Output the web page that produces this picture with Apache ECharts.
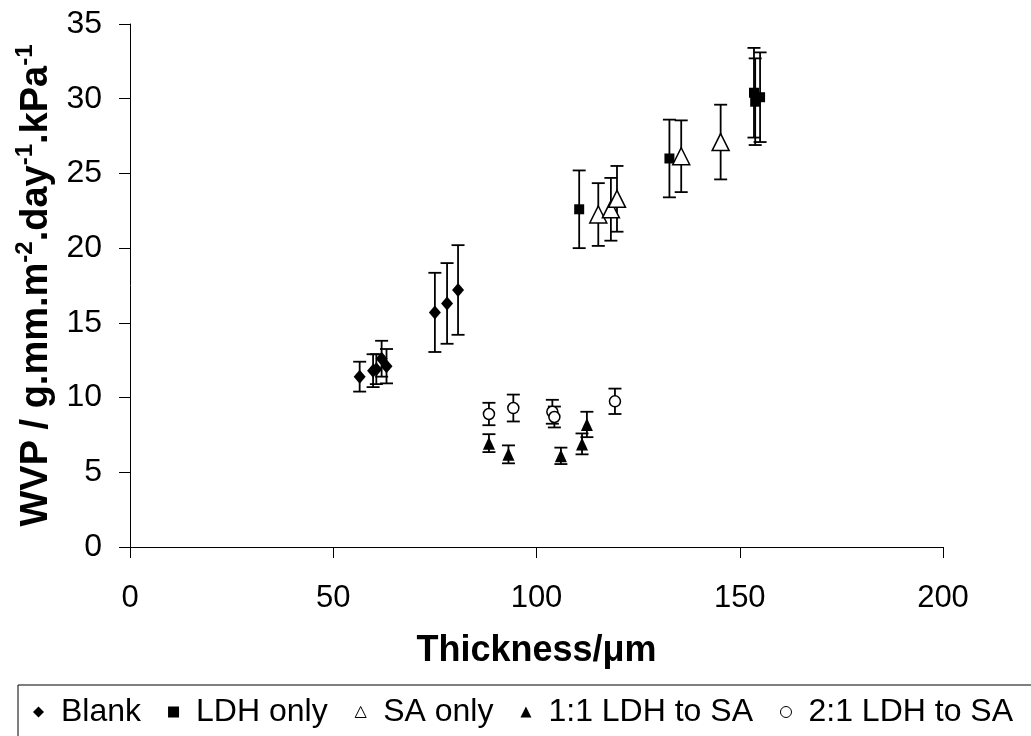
<!DOCTYPE html>
<html>
<head>
<meta charset="utf-8">
<script src="https://cdn.jsdelivr.net/npm/echarts@6/dist/echarts.min.js"></script>
<style>
    html, body { margin: 0; padding: 0; background: #fff; }
    #chart { width: 1031px; height: 736px; }
</style>
</head>
<body>
<div id="chart"></div>
<script>
// Blank
var blankX = [56.5, 59.8, 60.6, 61.9, 63.1, 75.0, 78.0, 80.7];
var blankY = [11.4, 11.8, 11.9, 12.6, 12.1, 15.7, 16.3, 17.2];
var blankErr = [1.0, 1.1, 1.0, 1.2, 1.15, 2.65, 2.7, 3.0];
// LDH only
var ldhX = [110.5, 132.7, 153.5, 153.8, 155.0];
var ldhY = [22.6, 26.0, 30.4, 29.8, 30.1];
var ldhErr = [2.6, 2.6, 3.0, 2.9, 3.0];
// SA only
var saX = [115.2, 118.3, 119.8, 135.6, 145.3];
var saY = [22.25, 22.6, 23.3, 26.15, 27.1];
var saErr = [2.1, 2.1, 2.2, 2.4, 2.5];
// 1:1 LDH to SA
var r11X = [88.3, 93.1, 106.0, 111.2, 112.4];
var r11Y = [6.95, 6.2, 6.1, 6.9, 8.2];
var r11Err = [0.6, 0.6, 0.55, 0.7, 0.85];
// 2:1 LDH to SA
var r21X = [88.3, 94.3, 103.9, 104.4, 119.3];
var r21Y = [8.9, 9.3, 9.05, 8.7, 9.75];
var r21Err = [0.75, 0.9, 0.8, 0.7, 0.85];

var xTicks = [0, 50, 100, 150, 200];
var yTicks = [0, 5, 10, 15, 20, 25, 30, 35];

var font = 'Liberation Sans, Arial, sans-serif';

function pts(xs, ys, es) {
    return xs.map(function (x, i) { return [x, ys[i], es[i]]; });
}

// error bar drawn with the axis scales
function errBar(params, api) {
    var x = api.value(0), y = api.value(1), e = api.value(2);
    var top = api.coord([x, y + e]);
    var bot = api.coord([x, y - e]);
    var w = 6.5;
    var st = { stroke: '#000', lineWidth: 1.8 };
    return {
        type: 'group',
        children: [
            { type: 'line', shape: { x1: top[0], y1: top[1], x2: bot[0], y2: bot[1] }, style: st },
            { type: 'line', shape: { x1: top[0] - w, y1: top[1], x2: top[0] + w, y2: top[1] }, style: st },
            { type: 'line', shape: { x1: bot[0] - w, y1: bot[1], x2: bot[0] + w, y2: bot[1] }, style: st }
        ]
    };
}

var groups = [
    { name: 'Blank', d: pts(blankX, blankY, blankErr), symbol: 'diamond', size: [12, 14], fill: '#000' },
    { name: 'LDH only', d: pts(ldhX, ldhY, ldhErr), symbol: 'rect', size: 10, fill: '#000' },
    { name: 'SA only', d: pts(saX, saY, saErr), symbol: 'triangle', size: 17, fill: '#fff' },
    { name: '1:1 LDH to SA', d: pts(r11X, r11Y, r11Err), symbol: 'triangle', size: [12, 13], fill: '#000' },
    { name: '2:1 LDH to SA', d: pts(r21X, r21Y, r21Err), symbol: 'circle', size: 11, fill: '#fff' }
];

var series = [];
groups.forEach(function (g) {
    series.push({
        name: g.name + ' err',
        type: 'custom',
        renderItem: errBar,
        data: g.d,
        z: 1,
        silent: true
    });
});
groups.forEach(function (g) {
    series.push({
        name: g.name,
        type: 'scatter',
        data: g.d,
        symbol: g.symbol,
        symbolSize: g.size,
        z: 2,
        itemStyle: { color: g.fill, borderColor: '#000', borderWidth: g.fill === '#fff' ? 1.5 : 0, opacity: 1 }
    });
});

var legendIcons = { 'Blank': 'diamond', 'LDH only': 'rect', 'SA only': 'triangle', '1:1 LDH to SA': 'triangle', '2:1 LDH to SA': 'circle' };

option = {
    backgroundColor: '#fff',
    animation: false,
    grid: { left: 130, right: 88, top: 24, bottom: 189, containLabel: false },
    legend: {
        left: 18,
        top: 685,
        width: 1040,
        padding: [11, 30, 20, 15],
        borderColor: '#000',
        borderWidth: 1,
        itemWidth: 11,
        itemHeight: 11,
        itemGap: 27,
        textStyle: { fontFamily: font, fontSize: 32, color: '#000', padding: [0, 0, 0, 12] },
        data: groups.map(function (g) {
            return {
                name: g.name,
                icon: legendIcons[g.name],
                itemStyle: { color: g.fill, borderColor: '#000', borderWidth: g.fill === '#fff' ? 1 : 0 }
            };
        })
    },
    xAxis: {
        type: 'value',
        min: 0,
        max: 200,
        interval: 50,
        name: 'Thickness/μm',
        nameLocation: 'middle',
        nameGap: 86,
        nameTextStyle: { fontFamily: font, fontSize: 36, fontWeight: 'bold', color: '#000' },
        axisLine: { show: true, lineStyle: { color: '#000', width: 1 } },
        axisTick: { show: true, length: 11, lineStyle: { color: '#000' } },
        axisLabel: { margin: 36, fontFamily: font, fontSize: 31, color: '#000' },
        splitLine: { show: false }
    },
    yAxis: {
        type: 'value',
        min: 0,
        max: 35,
        interval: 5,
        name: '{m|WVP / g.mm.m}{s|-2}{m|.day}{s|-1}{m|.kPa}{s|-1}',
        nameLocation: 'middle',
        nameRotate: 90,
        nameGap: 74,
        nameTextStyle: {
            color: '#000',
            rich: {
                m: { fontFamily: font, fontSize: 38, fontWeight: 'bold', color: '#000', lineHeight: 42, verticalAlign: 'bottom' },
                s: { fontFamily: font, fontSize: 24, fontWeight: 'bold', color: '#000', lineHeight: 42, verticalAlign: 'top' }
            }
        },
        axisLine: { show: true, lineStyle: { color: '#000', width: 1 } },
        axisTick: { show: true, length: 11, lineStyle: { color: '#000' } },
        axisLabel: { margin: 28, fontFamily: font, fontSize: 32, color: '#000' },
        splitLine: { show: false }
    },
    series: series
};

var myChart = echarts.init(document.getElementById('chart'));
myChart.setOption(option);
</script>
</body>
</html>
